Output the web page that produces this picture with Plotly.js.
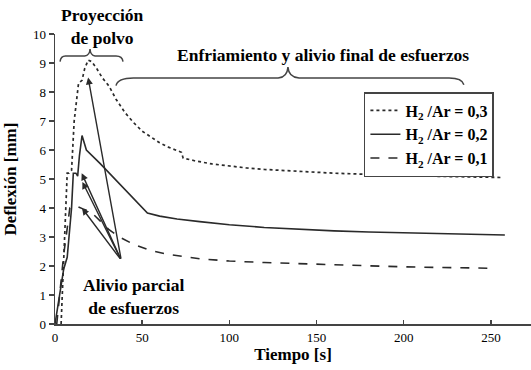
<!DOCTYPE html>
<html>
<head>
<meta charset="utf-8">
<script src="https://cdn.plot.ly/plotly-3.0.1.min.js"></script>
<style>html,body{margin:0;padding:0;background:#fff;}#chart{width:531px;height:370px;}</style>
</head>
<body>
<div id="chart"></div>
<script>
// Series H2/Ar = 0,3 (dotted)
const x03 = [3.5, 5, 6.5, 7, 8, 9.5, 11, 13.5, 15.5, 17, 19, 21, 24, 27, 31, 35, 40, 45, 50, 55, 60, 65, 70, 72.5, 73.5, 80, 90, 100, 110, 120, 140, 160, 180, 200, 220, 240, 257];
const y03 = [0, 2.5, 4.6, 5.2, 5.2, 5.3, 7.0, 8.3, 8.4, 8.8, 9.1, 9.05, 8.8, 8.5, 8.2, 7.75, 7.3, 6.95, 6.65, 6.45, 6.25, 6.1, 5.97, 5.92, 5.72, 5.63, 5.52, 5.44, 5.38, 5.33, 5.26, 5.2, 5.16, 5.12, 5.09, 5.07, 5.05];
// Series H2/Ar = 0,2 (solid)
const x02 = [0, 3, 5, 7, 8, 9.5, 10.5, 12, 13, 14, 15.5, 16.5, 18, 25.8, 35, 45, 52, 53, 60, 70, 83, 100, 120, 140, 160, 180, 200, 220, 240, 258];
const y02 = [0, 1.1, 1.9, 2.3, 3.0, 4.0, 5.2, 5.2, 5.1, 5.8, 6.5, 6.3, 6.0, 5.54, 4.97, 4.35, 3.9, 3.83, 3.72, 3.62, 3.53, 3.42, 3.33, 3.26, 3.21, 3.17, 3.14, 3.11, 3.09, 3.07];
// Series H2/Ar = 0,1 (dashed)
const x01 = [1, 3, 5, 7, 8.5, 10, 12, 13, 14.5, 16, 18, 22, 26, 31, 37, 45, 54, 65, 83, 100, 120, 140, 160, 180, 200, 220, 240, 253];
const y01 = [0, 1.3, 2.4, 3.3, 4.0, 4.0, 4.0, 4.05, 4.0, 3.97, 3.92, 3.78, 3.55, 3.25, 3.0, 2.75, 2.55, 2.4, 2.25, 2.17, 2.12, 2.08, 2.04, 2.0, 1.97, 1.95, 1.93, 1.92];
const seriesNames = ['<b>H<sub>2</sub> /Ar = 0,3</b>', '<b>H<sub>2</sub> /Ar = 0,2</b>', '<b>H<sub>2</sub> /Ar = 0,1</b>'];
// "Alivio parcial" arrows: common tail and heads
const arrowTailX = 38, arrowTailY = 2.2;
const arrowHeadX = [19, 15.3, 15.7, 15.5];
const arrowHeadY = [8.5, 5.2, 4.9, 4.0];
const xTicks = [0, 50, 100, 150, 200, 250];
const yTicks = [0, 1, 2, 3, 4, 5, 6, 7, 8, 9, 10];

const FONT = 'Liberation Serif';
const LC = '#2a2a2a';

function draw() {
  const traces = [
    {x: x03, y: y03, name: seriesNames[0], mode: 'lines', line: {color: LC, width: 1.7, dash: 'dot'}},
    {x: x02, y: y02, name: seriesNames[1], mode: 'lines', line: {color: LC, width: 1.6}},
    {x: x01, y: y01, name: seriesNames[2], mode: 'lines', line: {color: LC, width: 1.6, dash: 'dash'}}
  ];

  const annotations = [
    {xref: 'paper', yref: 'paper', x: 0.1, y: 1.025, xanchor: 'center', yanchor: 'middle',
     text: '<b>Proyección<br>de polvo</b>', showarrow: false, font: {family: FONT, size: 17.5, color: '#000'}},
    {xref: 'x', yref: 'y', x: 153.5, y: 9.26, xanchor: 'center', yanchor: 'middle',
     text: '<b>Enfriamiento y alivio final de esfuerzos</b>', showarrow: false, font: {family: FONT, size: 17.5, color: '#000'}},
    {xref: 'x', yref: 'y', x: 45, y: 0.95, xanchor: 'center', yanchor: 'middle',
     text: '<b>Alivio parcial<br>de esfuerzos</b>', showarrow: false, font: {family: FONT, size: 17.5, color: '#000'}}
  ];
  for (let i = 0; i < arrowHeadX.length; i++) {
    annotations.push({xref: 'x', yref: 'y', axref: 'x', ayref: 'y', x: arrowHeadX[i], y: arrowHeadY[i],
      ax: arrowTailX, ay: arrowTailY, text: '', showarrow: true, arrowhead: 2, arrowsize: 1, arrowwidth: 1.4, arrowcolor: LC});
  }

  const shapes = [
    {type: 'path', xref: 'x', yref: 'y', line: {color: '#444', width: 1.5},
     path: 'M 2.9,9.05 Q 3.3,9.24 6,9.24 L 17,9.24 Q 19.9,9.26 20.1,9.48 Q 20.3,9.26 23,9.24 L 35,9.24 Q 38.6,9.24 39,9.05'},
    {type: 'path', xref: 'x', yref: 'y', line: {color: '#444', width: 1.5},
     path: 'M 35,8.22 Q 36,8.48 45,8.48 L 128,8.48 Q 133.2,8.5 133.6,8.86 Q 134,8.5 140,8.48 L 226,8.48 Q 233.5,8.48 234.5,8.25'}
  ];

  const layout = {
    width: 531, height: 370,
    margin: {l: 55, r: 0, t: 34, b: 46},
    paper_bgcolor: '#fff', plot_bgcolor: '#fff',
    font: {family: FONT, size: 13, color: '#000'},
    showlegend: true,
    legend: {x: 0.649, y: 0.8, xanchor: 'left', yanchor: 'top', bgcolor: '#fff', bordercolor: '#444', borderwidth: 1.5,
      font: {family: FONT, size: 16, color: '#000'}, itemwidth: 30, tracegroupgap: 0},
    xaxis: {range: [0, 273], tickvals: xTicks, ticktext: xTicks.map(String), ticks: 'inside', ticklen: 4, tickcolor: '#444', tickwidth: 1.5,
      showline: true, linecolor: '#444', linewidth: 2, showgrid: false, zeroline: false,
      tickfont: {family: FONT, size: 13, color: '#000'},
      title: {text: '<b>Tiempo [s]</b>', font: {family: FONT, size: 17, color: '#000'}, standoff: 3}},
    yaxis: {range: [0, 10], tickvals: yTicks, ticktext: yTicks.map(String), ticks: 'outside', ticklen: 5, tickcolor: '#444', tickwidth: 1.5,
      showline: true, linecolor: '#444', linewidth: 1.5, showgrid: false, zeroline: false,
      tickfont: {family: FONT, size: 13, color: '#000'},
      title: {text: '<b>Deflexión [mm]</b>', font: {family: FONT, size: 17, color: '#000'}, standoff: 12}},
    annotations: annotations,
    shapes: shapes
  };

  Plotly.newPlot('chart', traces, layout, {displayModeBar: false, staticPlot: true});
}

let drawn = false;
function go() { if (!drawn) { drawn = true; draw(); } }
if (document.fonts && document.fonts.load) {
  Promise.all([
    document.fonts.load('13px "Liberation Serif"'),
    document.fonts.load('bold 17px "Liberation Serif"')
  ]).then(go, go);
  setTimeout(go, 800);
} else {
  go();
}
</script>
</body>
</html>
